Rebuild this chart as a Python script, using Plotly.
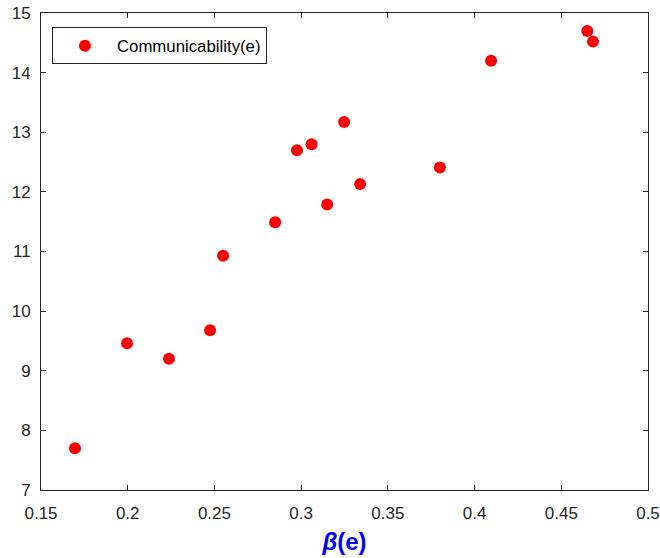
import plotly.graph_objects as go

beta_e = [0.1696, 0.1996, 0.2238, 0.2475, 0.2550, 0.2850, 0.2976, 0.3060, 0.3150, 0.3248, 0.3340, 0.3800, 0.4095, 0.4650, 0.4683]
communicability_e = [7.70, 9.46, 9.20, 9.68, 10.93, 11.49, 12.70, 12.80, 11.79, 13.17, 12.13, 12.41, 14.20, 14.70, 14.52]

x_ticks = [0.15, 0.2, 0.25, 0.3, 0.35, 0.4, 0.45, 0.5]
x_tick_labels = ["0.15", "0.2", "0.25", "0.3", "0.35", "0.4", "0.45", "0.5"]
y_ticks = [7, 8, 9, 10, 11, 12, 13, 14, 15]
y_tick_labels = ["7", "8", "9", "10", "11", "12", "13", "14", "15"]

axis_color = "#262626"
font_family = "Liberation Sans, Arial, sans-serif"

fig = go.Figure()
fig.add_trace(go.Scatter(
    x=beta_e, y=communicability_e, mode="markers",
    name="Communicability(e)",
    marker=dict(color="#FF0000", size=12, line=dict(width=0)),
))

axis_common = dict(
    showline=True, linecolor=axis_color, linewidth=1, mirror="allticks",
    ticks="inside", ticklen=5, tickcolor=axis_color, tickwidth=1,
    showgrid=False, zeroline=False, automargin=False,
    tickfont=dict(family=font_family, size=17, color=axis_color),
)

fig.update_layout(
    width=660, height=558,
    margin=dict(l=41, r=12, t=12.5, b=68, autoexpand=False),
    paper_bgcolor="white", plot_bgcolor="white",
    font=dict(family=font_family),
    xaxis=dict(range=[0.15, 0.5], tickvals=x_ticks, ticktext=x_tick_labels,
               ticklabelstandoff=8,
               title=dict(text="<b><i>β</i>(e)</b>", standoff=10,
                          font=dict(family=font_family, size=24, color="#0000FF")),
               **axis_common),
    yaxis=dict(range=[7, 15], tickvals=y_ticks, ticktext=y_tick_labels,
               ticklabelstandoff=6, **axis_common),
    showlegend=True,
    legend=dict(x=0.018, y=0.97, xanchor="left", yanchor="top",
                bgcolor="white", bordercolor=axis_color, borderwidth=1,
                font=dict(family=font_family, size=16.8, color="black"),
                itemwidth=54),
)

fig.write_html("out.html")
